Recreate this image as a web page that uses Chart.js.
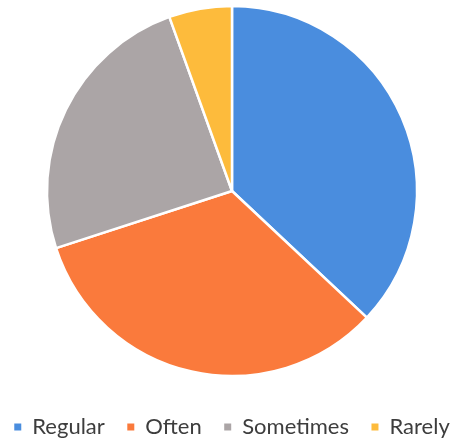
<!DOCTYPE html>
<html>
<head>
<meta charset="utf-8">
<script src="https://cdn.jsdelivr.net/npm/chart.js@4.4.0/dist/chart.umd.min.js"></script>
<style>
  html, body { margin: 0; padding: 0; background: #ffffff; overflow: hidden; }
  #wrap { width: 461px; height: 444px; }
</style>
</head>
<body>
<div id="wrap"><canvas id="pieChart" width="461" height="444"></canvas></div>
<script>
// Data (share of answers, %)
const categories = ["Regular", "Often", "Sometimes", "Rarely"];
const values = [37, 33, 24.5, 5.5];
const colors = ["#4A8DDE", "#FA7A3C", "#ABA5A6", "#FDBB3C"];

const ctx = document.getElementById("pieChart");

// default pie legend items, with a wider gap after each label
function legendLabels(chart) {
  const items = Chart.overrides.doughnut.plugins.legend.labels.generateLabels(chart);
  items.forEach((item, i) => {
    item.lineWidth = 0;
    if (i < items.length - 1) item.text += "\u2003";
  });
  return items;
}

new Chart(ctx, {
  type: "pie",
  data: {
    labels: categories,
    datasets: [{
      data: values,
      backgroundColor: colors,
      borderColor: "#ffffff",
      borderWidth: 2.5,
      radius: 185
    }]
  },
  options: {
    responsive: false,
    animation: false,
    layout: {
      padding: { top: 4, bottom: -4, left: 3, right: 0 }
    },
    plugins: {
      tooltip: { enabled: false },
      legend: {
        position: "bottom",
        title: {
          display: true,
          text: "",
          font: { size: 10, lineHeight: 1 },
          padding: { top: 22, bottom: 0 }
        },
        labels: {
          color: "#3d3d3d",
          boxWidth: 7,
          boxHeight: 7,
          padding: 6,
          font: { family: "Lato", size: 22 },
          generateLabels: legendLabels
        }
      }
    }
  }
});
</script>
</body>
</html>
